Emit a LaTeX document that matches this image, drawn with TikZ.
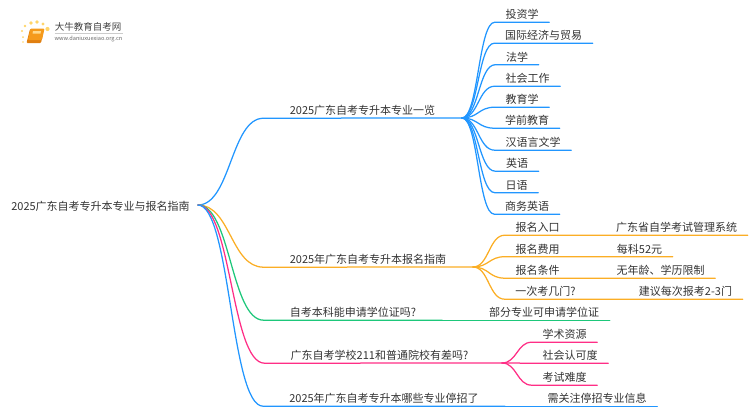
\documentclass[tikz,border=0pt]{standalone}
\usepackage{fontspec}
\usetikzlibrary{calc}
\setmainfont{Noto Sans CJK SC}
\definecolor{lineblue}{HTML}{2196FF}
\definecolor{lineorange}{HTML}{FBAE25}
\definecolor{linegreen}{HTML}{1DC77A}
\definecolor{linepink}{HTML}{FF2E86}
\definecolor{inktext}{HTML}{333333}
\definecolor{bookorange}{HTML}{F59A1B}
\definecolor{bookdark}{HTML}{E07F10}
\definecolor{booklight}{HTML}{FFD98A}
\definecolor{sundot}{HTML}{FFD56A}
\begin{document}
\begin{tikzpicture}[x=1pt,y=-1pt,
    txt/.style = {text=inktext,font=\fontsize{11}{13}\selectfont,inner ysep=0pt,minimum height=17pt,text height=11pt,text depth=1pt},
    branch/.style = {txt,inner xsep=26pt},
    leaf/.style = {txt,inner xsep=10.5pt},
    link/.style = {line width=1.25pt,line cap=round},
    curve/.style 2 args = {insert path={(#1) .. controls ($(#1)!.5!(#2 |- #1)$) and ($(#2)!.5!(#1 |- #2)$) .. (#2)}}]
    \useasboundingbox (0,0) rectangle (750,410);

    % logo
    \fill[bookdark,rounded corners=1pt] (30,29) -- (44,29) -- (41,43) -- (26.5,43) -- cycle;
    \fill[bookorange,rounded corners=1pt] (30.5,28.5) -- (44.5,28.5) -- (42,40) -- (28,40) -- cycle;
    \fill[booklight] (33,31) -- (41,31) -- (40.5,33.5) -- (32.5,33.5) -- cycle;
    \foreach \dotx/\doty/\dotr in {25/26/1.4,31/23/1.8,37/22/1.9,43/24/1.7,47.5/29/2.1,22/31/1.1,23/37/1,23/42/.8}
        \fill[sundot] (\dotx,\doty) circle (\dotr);
    \node[text=black!75,font=\fontsize{9.5}{11}\selectfont,inner sep=0pt] (logotitle) at (88,26.5) {大牛教育自考网};
    \node[text=black!60,font=\fontsize{5.6}{7}\selectfont,inner sep=0pt] (logourl) at (88.5,39) {www.daniuxuexiao.org.cn};
    \draw[black!20,line width=.4pt] (logotitle.south west) ++(0,2) -- ++(68,0);

    \node[txt,inner xsep=8pt] (root) at (100.5,205) {2025广东自考专升本专业与报名指南};

    % main branches
    \node[branch] (majors) at (362.5,109.5) {2025广东自考专升本专业一览};
    \node[branch] (guide) at (368,258.5) {2025年广东自考专升本报名指南};
    \node[branch] (degree) at (353,311.5) {自考本科能申请学位证吗?};
    \node[branch] (school) at (379.5,354.5) {广东自考学校211和普通院校有差吗?};
    \node[branch] (stop) at (384,397.5) {2025年广东自考专升本哪些专业停招了};

    \coordinate (hubmajors) at (462,118);
    \coordinate (hubguide) at (473,267);
    \coordinate (hubschool) at (502,363);

    \draw[link,lineblue,curve={root.east}{majors.south west}] -- (hubmajors);
    \draw[link,lineorange,curve={root.east}{guide.south west}] -- (hubguide);
    \draw[link,linegreen,curve={root.east}{degree.south west}] -- (degree.south east);
    \draw[link,linepink,curve={root.east}{school.south west}] -- (hubschool);
    \draw[link,lineblue,curve={root.east}{stop.south west}] -- (stop.south east);

    % majors
    \node[leaf] (invest) at (522,13.5) {投资学};
    \node[leaf] (trade) at (543.5,34.5) {国际经济与贸易};
    \node[leaf] (law) at (517,56) {法学};
    \node[leaf] (social) at (527.5,77.5) {社会工作};
    \node[leaf] (edu) at (522,98.5) {教育学};
    \node[leaf] (preedu) at (527,119.5) {学前教育};
    \node[leaf] (chinese) at (533,141.5) {汉语言文学};
    \node[leaf] (english) at (517,162.5) {英语};
    \node[leaf] (japanese) at (516.5,184) {日语};
    \node[leaf] (bizeng) at (527,205.5) {商务英语};
    \foreach \leafname in {invest,trade,law,social,edu,preedu,chinese,english,japanese,bizeng}
        \draw[link,lineblue,curve={hubmajors}{\leafname.south west}] -- (\leafname.south east);

    % signup guide
    \node[leaf] (entry) at (537.5,226.5) {报名入口};
    \node[leaf] (entryv) at (676.5,226.5) {广东省自学考试管理系统};
    \node[leaf] (fee) at (537.5,248) {报名费用};
    \node[leaf] (feev) at (639.5,248) {每科52元};
    \node[leaf] (cond) at (537.5,269.5) {报名条件};
    \node[leaf] (condv) at (660.5,269.5) {无年龄、学历限制};
    \node[leaf] (count) at (545.5,290.5) {一次考几门?};
    \node[leaf] (countv) at (685.5,290.5) {建议每次报考2-3门};
    \foreach \leftname/\rightname in {entry/entryv,fee/feev,cond/condv,count/countv}
        \draw[link,lineorange,curve={hubguide}{\leftname.south west}] -- (\rightname.south east);

    \node[leaf] (degreev) at (544,311.5) {部分专业可申请学位证};
    \draw[link,linegreen] (degree.south east) -- (degreev.south east);

    % school difference
    \node[leaf] (res) at (564.5,333.5) {学术资源};
    \node[leaf] (rep) at (570,354.5) {社会认可度};
    \node[leaf] (diff) at (564.5,376.5) {考试难度};
    \foreach \leafname in {res,rep,diff}
        \draw[link,linepink,curve={hubschool}{\leafname.south west}] -- (\leafname.south east);

    \node[leaf] (stopv) at (597,397.5) {需关注停招专业信息};
    \draw[link,lineblue] (stop.south east) -- (stopv.south east);
\end{tikzpicture}
\end{document}
